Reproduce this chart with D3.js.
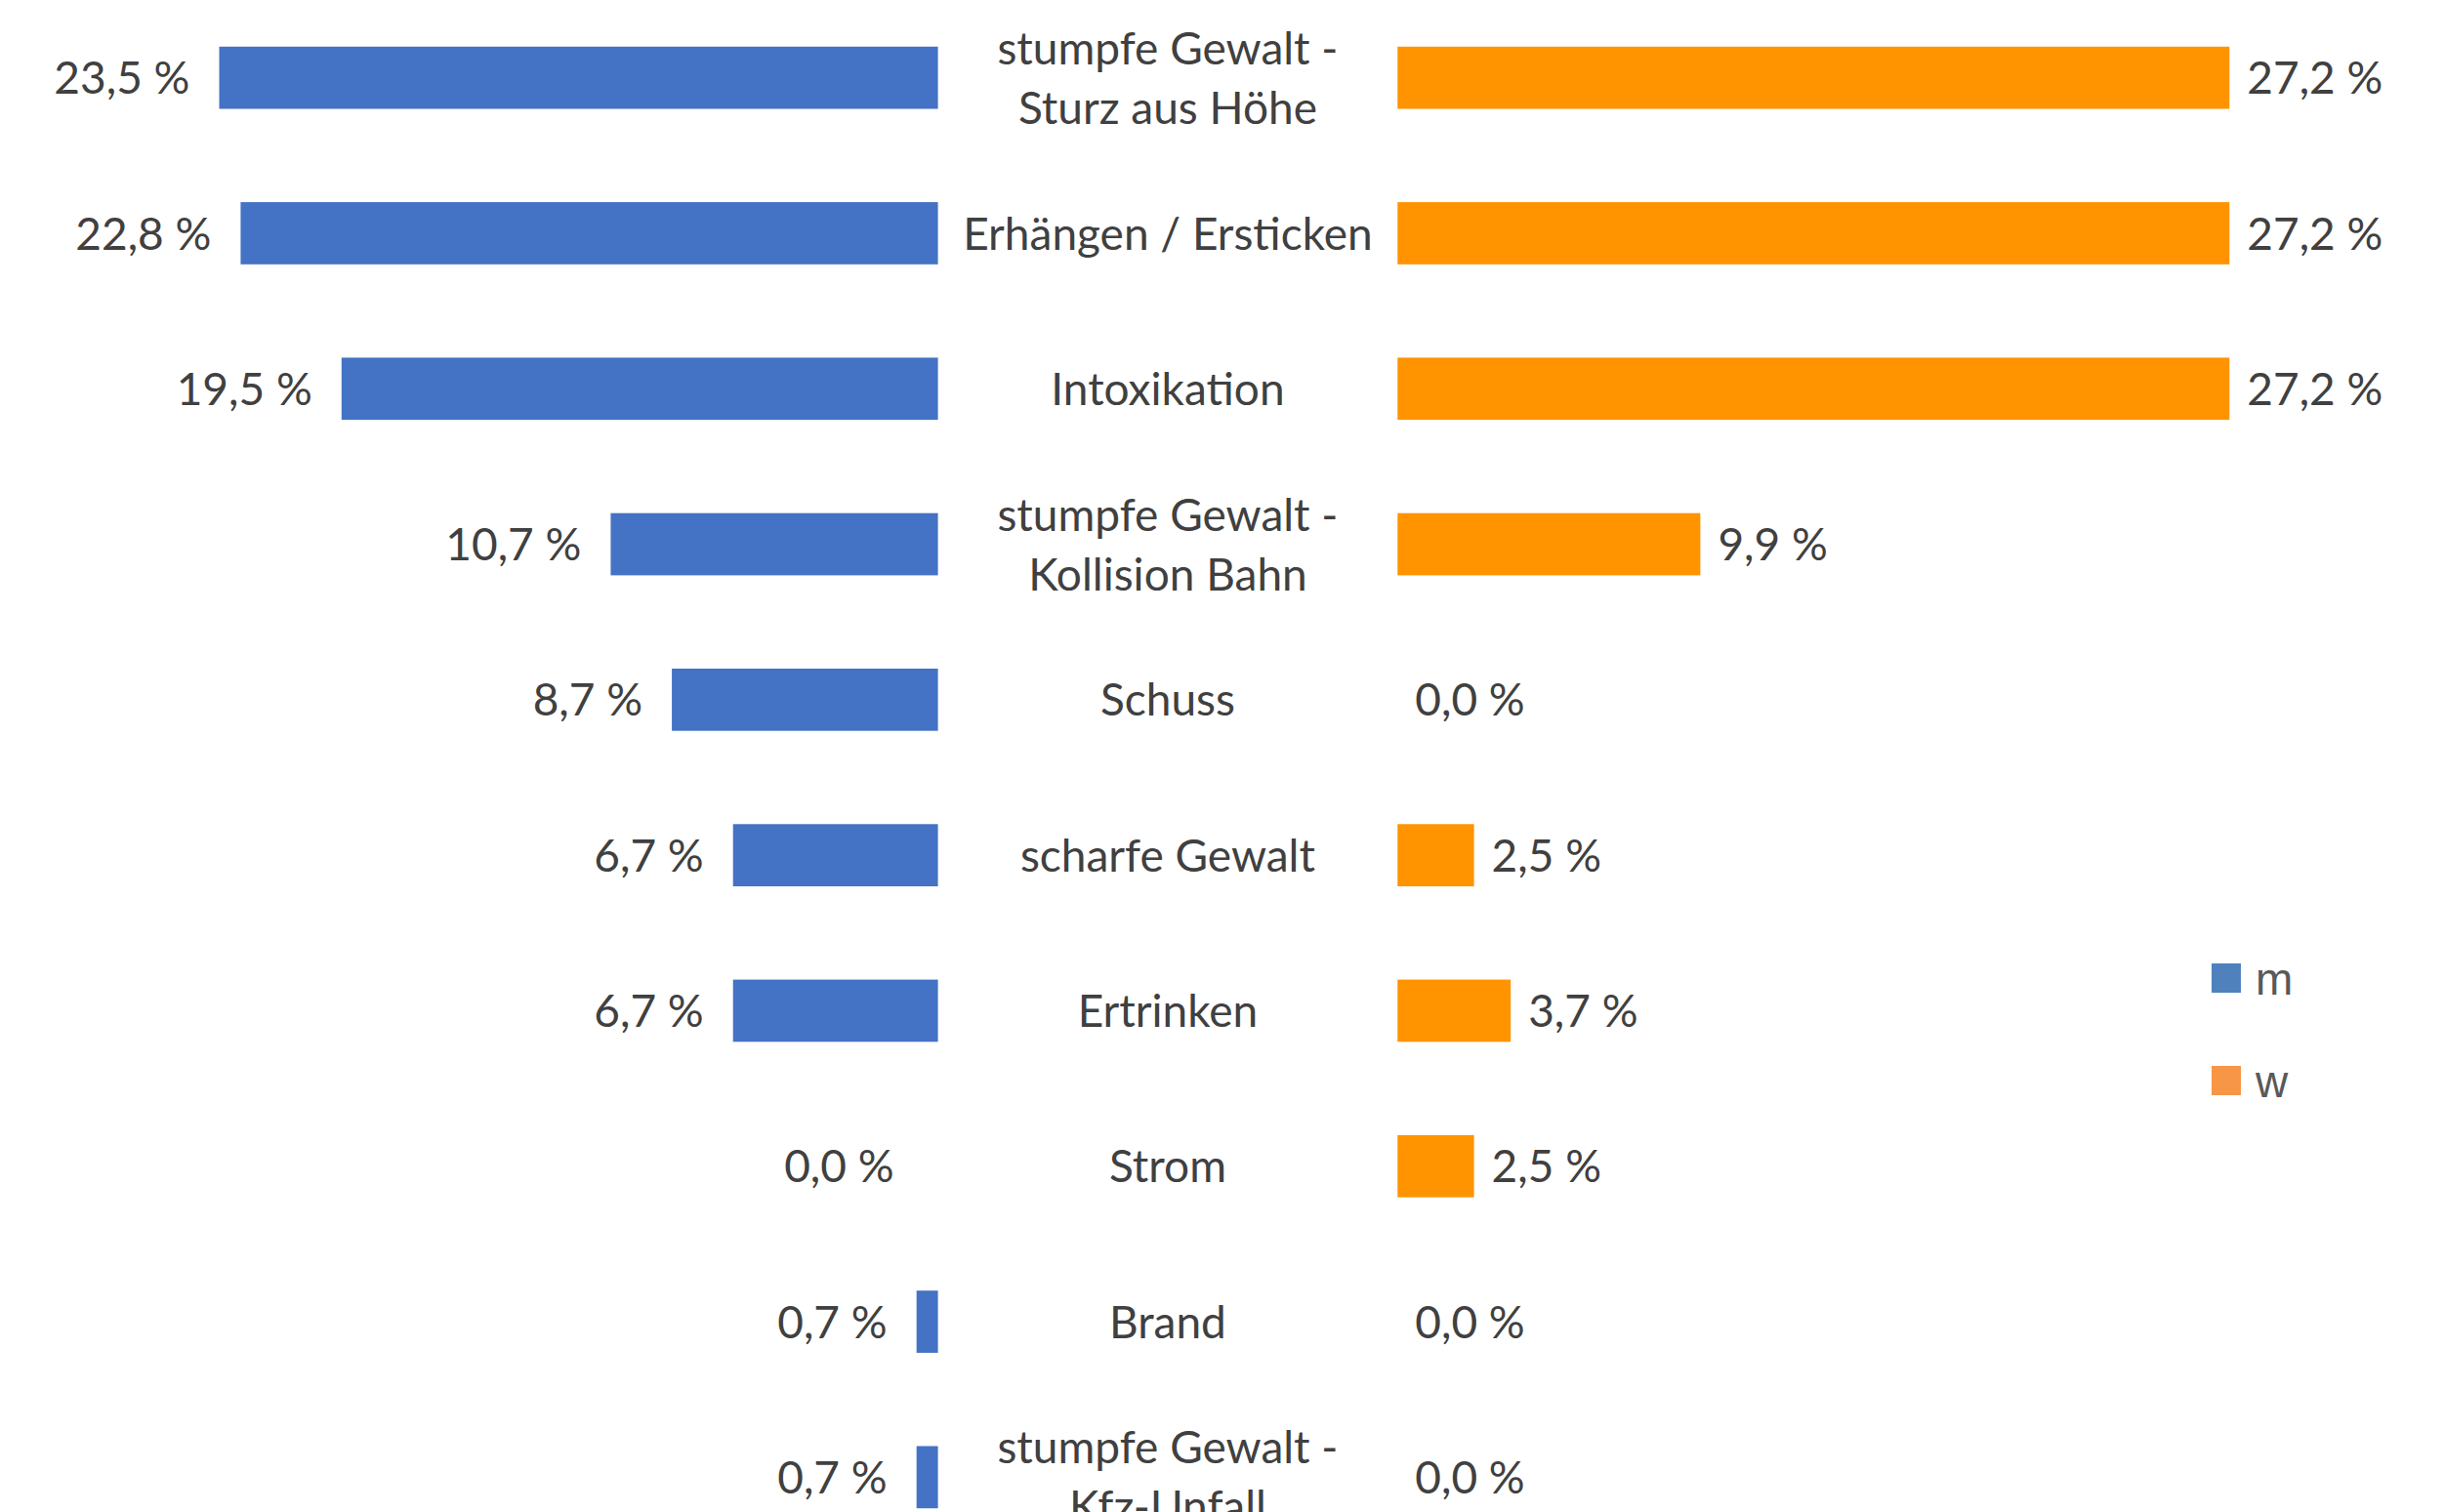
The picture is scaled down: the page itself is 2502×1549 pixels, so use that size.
<!DOCTYPE html>
<html>
<head>
<meta charset="utf-8">
<script src="https://cdn.jsdelivr.net/npm/d3@7"></script>
<style>
  html, body { margin: 0; padding: 0; background: #fff; overflow: hidden; }
  svg { display: block; }
</style>
</head>
<body>
<svg id="chart" width="2502" height="1549"></svg>
<script>
// Todesart nach Geschlecht (Anteile in %)
const categories = [
  ["stumpfe Gewalt -", "Sturz aus Höhe"],
  ["Erhängen / Ersticken"],
  ["Intoxikation"],
  ["stumpfe Gewalt -", "Kollision Bahn"],
  ["Schuss"],
  ["scharfe Gewalt"],
  ["Ertrinken"],
  ["Strom"],
  ["Brand"],
  ["stumpfe Gewalt -", "Kfz-Unfall"]
];
const valuesM = [23.5, 22.8, 19.5, 10.7, 8.7, 6.7, 6.7, 0.0, 0.7, 0.7];
const valuesW = [27.2, 27.2, 27.2, 9.9, 0.0, 2.5, 3.7, 2.5, 0.0, 0.0];
const seriesNames = ["m", "w"];

const font = "Lato, 'Open Sans', sans-serif";
const textColor = "#404040";
const barColors = { m: "#4472C4", w: "#FF9300" };
const legendColors = { m: "#4F81BD", w: "#F79646" };

const svg = d3.select("#chart");
const keys = categories.map((c, i) => i);

// Shared vertical layout: one band per cause of death
const y = d3.scaleBand().domain(keys).range([0, 1593]).paddingInner(0.6).paddingOuter(0.3);

// Left (m) grows leftwards from its baseline, right (w) grows rightwards
const leftBase = 960.6, rightBase = 1431.3, span = 852;
const xLeft = d3.scaleLinear().domain([0, 27.2]).range([leftBase, leftBase - span]);
const xRight = d3.scaleLinear().domain([0, 27.2]).range([rightBase, rightBase + span]);

const fmt = v => d3.format(".1f")(v).replace(".", ",") + " %";

// Bars m
svg.append("g").selectAll("rect").data(valuesM).join("rect")
  .attr("x", d => xLeft(d))
  .attr("y", (d, i) => y(i))
  .attr("width", d => xLeft(0) - xLeft(d))
  .attr("height", y.bandwidth())
  .attr("fill", barColors.m);

// Bars w
svg.append("g").selectAll("rect").data(valuesW).join("rect")
  .attr("x", xRight(0))
  .attr("y", (d, i) => y(i))
  .attr("width", d => xRight(d) - xRight(0))
  .attr("height", y.bandwidth())
  .attr("fill", barColors.w);

const fontSize = 46;

// Value labels m
svg.append("g").selectAll("text").data(valuesM).join("text")
  .attr("x", d => xLeft(d) - (d === 0 ? 45 : 30))
  .attr("y", (d, i) => y(i) + y.bandwidth() / 2)
  .attr("dy", "0.36em")
  .attr("text-anchor", "end")
  .attr("font-family", font).attr("font-size", fontSize)
  .attr("fill", textColor)
  .text(fmt);

// Value labels w
svg.append("g").selectAll("text").data(valuesW).join("text")
  .attr("x", d => xRight(d) + 18)
  .attr("y", (d, i) => y(i) + y.bandwidth() / 2)
  .attr("dy", "0.36em")
  .attr("text-anchor", "start")
  .attr("font-family", font).attr("font-size", fontSize)
  .attr("fill", textColor)
  .text(fmt);

// Category labels in the centre column
const midX = (leftBase + rightBase) / 2;
const lineGap = 61;
const catG = svg.append("g").selectAll("text").data(categories).join("text")
  .attr("x", midX)
  .attr("y", (d, i) => y(i) + y.bandwidth() / 2 - (d.length - 1) * lineGap / 2)
  .attr("text-anchor", "middle")
  .attr("font-family", font).attr("font-size", fontSize)
  .attr("fill", textColor);
catG.selectAll("tspan").data(d => d).join("tspan")
  .attr("x", midX)
  .attr("dy", (d, j) => j === 0 ? "0.36em" : lineGap)
  .text(d => d);

// Legend
const legend = svg.append("g").attr("transform", "translate(2265,987)");
const lg = legend.selectAll("g").data(seriesNames).join("g")
  .attr("transform", (d, i) => `translate(0,${i * 105})`);
lg.append("rect").attr("width", 30).attr("height", 30)
  .attr("fill", d => legendColors[d]);
lg.append("text")
  .attr("x", 45).attr("y", 15).attr("dy", "0.36em")
  .attr("font-family", "'Liberation Sans', Arial, sans-serif")
  .attr("font-size", 46)
  .attr("fill", "#595959")
  .text(d => d);
</script>
</body>
</html>
